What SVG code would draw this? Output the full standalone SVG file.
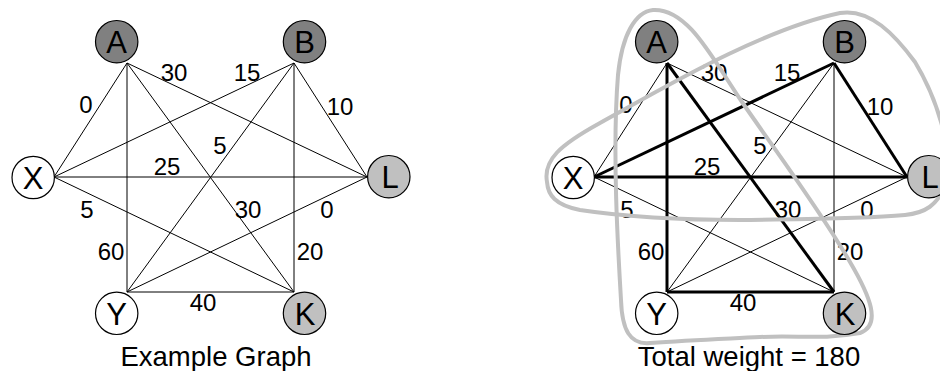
<svg xmlns="http://www.w3.org/2000/svg" width="940" height="371" viewBox="0 0 940 371">
  <style>
    .edge { stroke: #000; stroke-width: 1; fill: none; }
    .bold { stroke: #000; stroke-width: 3; fill: none; }
    .node { stroke: #000; stroke-width: 1.2; }
    .white { fill: #fff; }
    .dark { fill: #808080; }
    .light { fill: #c0c0c0; }
    .nlabel { font-family: "Liberation Sans", Arial, sans-serif; font-size: 31px; text-anchor: middle; fill: #000; }
    .wlabel { font-family: "Liberation Sans", Arial, sans-serif; font-size: 24px; text-anchor: middle; fill: #000; }
    .caption { font-family: "Liberation Sans", Arial, sans-serif; font-size: 27.5px; text-anchor: middle; fill: #000; }
    .hull { stroke: #c0c0c0; stroke-width: 4; fill: none; }
  </style>

  <!-- Left graph: complete weighted example -->
  <g id="graph-left">
    <g id="connectors-left">
      <line class="edge" x1="127" y1="63" x2="54" y2="177"/>
      <line class="edge" x1="127" y1="63" x2="367" y2="177"/>
      <line class="edge" x1="127" y1="63" x2="127" y2="292"/>
      <line class="edge" x1="127" y1="63" x2="294" y2="292"/>
      <line class="edge" x1="294" y1="63" x2="54" y2="177"/>
      <line class="edge" x1="294" y1="63" x2="367" y2="177"/>
      <line class="edge" x1="294" y1="63" x2="127" y2="292"/>
      <line class="edge" x1="294" y1="63" x2="294" y2="292"/>
      <line class="edge" x1="54" y1="177" x2="367" y2="177"/>
      <line class="edge" x1="54" y1="177" x2="294" y2="292"/>
      <line class="edge" x1="367" y1="177" x2="127" y2="292"/>
      <line class="edge" x1="127" y1="292" x2="294" y2="292"/>
    </g>
    <g id="weights-left">
      <text class="wlabel" x="86" y="113">0</text>
      <text class="wlabel" x="174" y="81">30</text>
      <text class="wlabel" x="247" y="81">15</text>
      <text class="wlabel" x="340" y="115">10</text>
      <text class="wlabel" x="220" y="154">5</text>
      <text class="wlabel" x="167" y="175">25</text>
      <text class="wlabel" x="87" y="218">5</text>
      <text class="wlabel" x="248" y="218">30</text>
      <text class="wlabel" x="327" y="218">0</text>
      <text class="wlabel" x="111" y="260">60</text>
      <text class="wlabel" x="310" y="260">20</text>
      <text class="wlabel" x="203" y="311">40</text>
    </g>
    <g id="node-A-left"><circle class="node dark" cx="116.7" cy="41.7" r="21.2"/><text class="nlabel" x="116.7" y="53">A</text></g>
    <g id="node-B-left"><circle class="node dark" cx="304.5" cy="41.7" r="21.2"/><text class="nlabel" x="304.5" y="53">B</text></g>
    <g id="node-X-left"><circle class="node white" cx="33.2" cy="177.5" r="21.2"/><text class="nlabel" x="33.2" y="188.5">X</text></g>
    <g id="node-L-left"><circle class="node light" cx="388.8" cy="176.7" r="21.2"/><text class="nlabel" x="390" y="188">L</text></g>
    <g id="node-Y-left"><circle class="node white" cx="116.7" cy="313.3" r="21.2"/><text class="nlabel" x="116.7" y="324.5">Y</text></g>
    <g id="node-K-left"><circle class="node light" cx="304.5" cy="313.3" r="21.2"/><text class="nlabel" x="305" y="324.5">K</text></g>
    <text class="caption" x="216" y="366">Example Graph</text>
  </g>

  <!-- Right graph: chosen edges in bold, clusters outlined -->
  <g id="graph-right">
    <g id="connectors-right" transform="translate(540,0)">
      <line class="edge" x1="127" y1="63" x2="54" y2="177"/>
      <line class="edge" x1="127" y1="63" x2="367" y2="177"/>
      <line class="edge" x1="294" y1="63" x2="127" y2="292"/>
      <line class="edge" x1="294" y1="63" x2="294" y2="292"/>
      <line class="edge" x1="54" y1="177" x2="294" y2="292"/>
      <line class="edge" x1="367" y1="177" x2="127" y2="292"/>
      <line class="bold" x1="127" y1="63" x2="127" y2="292"/>
      <line class="bold" x1="127" y1="63" x2="294" y2="292"/>
      <line class="bold" x1="294" y1="63" x2="54" y2="177"/>
      <line class="bold" x1="294" y1="63" x2="367" y2="177"/>
      <line class="bold" x1="54" y1="177" x2="367" y2="177"/>
      <line class="bold" x1="127" y1="292" x2="294" y2="292"/>
    </g>
    <g id="weights-right" transform="translate(540,0)">
      <text class="wlabel" x="86" y="113">0</text>
      <text class="wlabel" x="174" y="81">30</text>
      <text class="wlabel" x="247" y="81">15</text>
      <text class="wlabel" x="340" y="115">10</text>
      <text class="wlabel" x="220" y="154">5</text>
      <text class="wlabel" x="167" y="175">25</text>
      <text class="wlabel" x="87" y="218">5</text>
      <text class="wlabel" x="248" y="218">30</text>
      <text class="wlabel" x="327" y="218">0</text>
      <text class="wlabel" x="111" y="260">60</text>
      <text class="wlabel" x="310" y="260">20</text>
      <text class="wlabel" x="203" y="311">40</text>
    </g>
    <g id="clusters">
      <path class="hull" d="M 653,10 C 688,8 712,58 742,102 C 775,150 820,210 850,262 C 870,296 882,325 860,333 C 820,340 800,335 760,337 C 720,339 690,340 650,343 C 630,345 622,330 621,300 C 618,250 612,150 618,75 C 622,35 635,12 653,10 Z"/>
      <path class="hull" d="M 547,182 C 543,160 560,145 600,123 C 660,90 760,30 840,13 C 870,8 895,35 915,62 C 935,95 955,150 945,185 C 938,205 925,213 905,215 C 860,219 800,219 740,220 C 680,220 620,216 580,210 C 555,205 548,195 547,182 Z"/>
    </g>
    <g id="node-A-right"><circle class="node dark" cx="656.7" cy="41.7" r="21.2"/><text class="nlabel" x="656.7" y="53">A</text></g>
    <g id="node-B-right"><circle class="node dark" cx="844.5" cy="41.7" r="21.2"/><text class="nlabel" x="844.5" y="53">B</text></g>
    <g id="node-X-right"><circle class="node white" cx="573.2" cy="177.5" r="21.2"/><text class="nlabel" x="573.2" y="188.5">X</text></g>
    <g id="node-L-right"><circle class="node light" cx="928.8" cy="176.7" r="21.2"/><text class="nlabel" x="930" y="188">L</text></g>
    <g id="node-Y-right"><circle class="node white" cx="656.7" cy="313.3" r="21.2"/><text class="nlabel" x="656.7" y="324.5">Y</text></g>
    <g id="node-K-right"><circle class="node light" cx="844.5" cy="313.3" r="21.2"/><text class="nlabel" x="845" y="324.5">K</text></g>
    <text class="caption" x="749" y="366">Total weight = 180</text>
  </g>
</svg>
